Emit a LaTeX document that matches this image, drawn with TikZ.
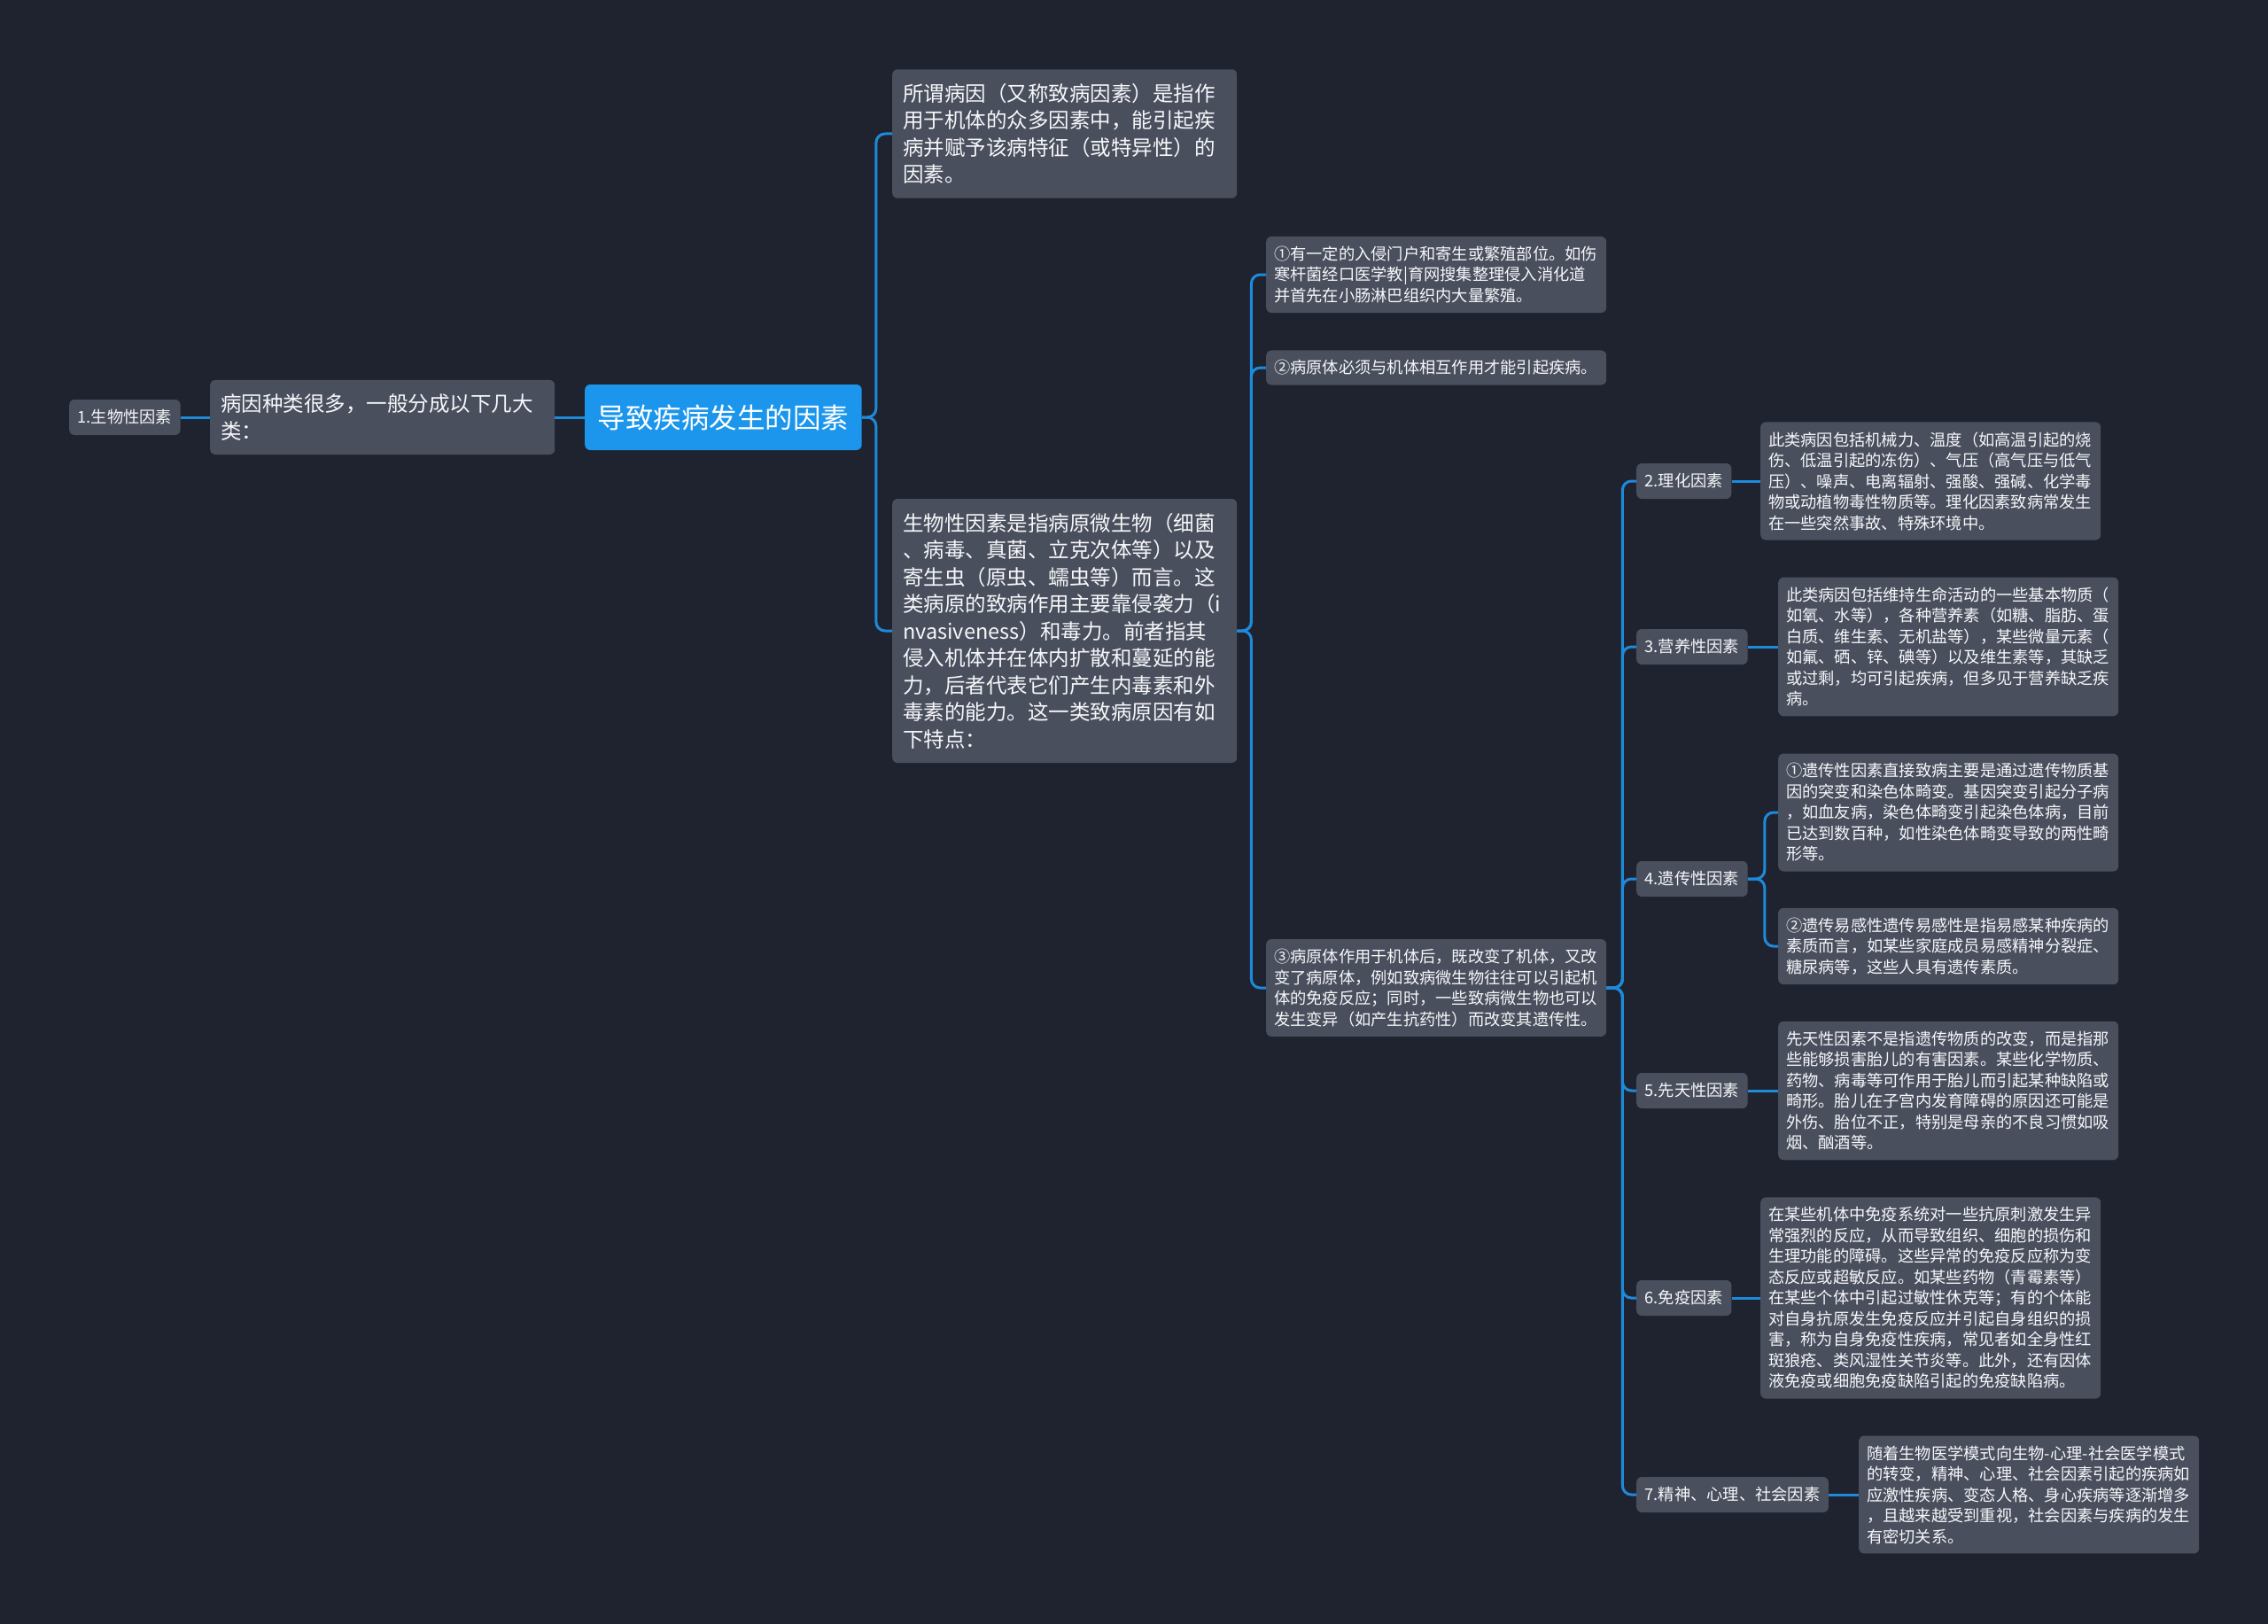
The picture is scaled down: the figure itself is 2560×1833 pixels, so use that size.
\documentclass[tikz,border=0pt]{standalone}
\usepackage{fontspec}
\setmainfont{Noto Sans CJK SC}

\definecolor{bgdark}{RGB}{31,35,47}
\definecolor{cardgray}{RGB}{74,79,94}
\definecolor{cardtext}{RGB}{246,247,249}
\definecolor{rootblue}{RGB}{28,150,236}
\definecolor{branchblue}{RGB}{30,138,218}

\begin{document}
\begin{tikzpicture}[x=1pt,y=-1pt]

    \def\rootgap{16}
    \def\biogap{16}
    \def\causegap{18}
    \def\genegap{19}

    % Styles
    \tikzstyle{card}=[fill=cardgray, text=cardtext, rounded corners=6pt, align=left, anchor=west]
    \tikzstyle{bigcard}=[card, font=\fontsize{23.5}{30.5}\selectfont, text width=365pt, inner xsep=12pt, inner ysep=16pt]
    \tikzstyle{smallcard}=[card, font=\fontsize{18.25}{23.5}\selectfont, text width=366pt, inner xsep=9pt, inner ysep=11pt]
    \tikzstyle{tagbox}=[card, font=\fontsize{18.25}{23.5}\selectfont, inner xsep=9.5pt, inner ysep=0pt, minimum height=40pt]
    \tikzstyle{rootbox}=[card, fill=rootblue, text=white, font=\fontsize{31.5}{38}\selectfont, inner xsep=14.5pt, inner ysep=0pt, minimum height=74pt]
    \tikzstyle{branch}=[draw=branchblue, line width=3pt, rounded corners=10pt]

    % background
    \fill[bgdark] (0,0) rectangle (2560,1833);

    % centre and left side
    \node[rootbox] (root) at (660,471) {导致疾病发生的因素};
    \node[bigcard] (kinds) at (237,471) {病因种类很多，一般分成以下几大\\类：};
    \node[tagbox] (biotag) at (78,471) {1.生物性因素};

    % definition and biological factors
    \node[bigcard] (define) at (1007,151) {所谓病因（又称致病因素）是指作\\用于机体的众多因素中，能引起疾\\病并赋予该病特征（或特异性）的\\因素。};
    \node[bigcard] (biotext) at (1007,712) {生物性因素是指病原微生物（细菌\\、病毒、真菌、立克次体等）以及\\寄生虫（原虫、蠕虫等）而言。这\\类病原的致病作用主要靠侵袭力（i\\nvasiveness）和毒力。前者指其\\侵入机体并在体内扩散和蔓延的能\\力，后者代表它们产生内毒素和外\\毒素的能力。这一类致病原因有如\\下特点：};

    % features
    \node[smallcard] (feat1) at (1429,310) {①有一定的入侵门户和寄生或繁殖部位。如伤\\寒杆菌经口医学教|育网搜集整理侵入消化道\\并首先在小肠淋巴组织内大量繁殖。};
    \node[smallcard] (feat2) at (1429,415) {②病原体必须与机体相互作用才能引起疾病。};
    \node[smallcard] (feat3) at (1429,1115) {③病原体作用于机体后，既改变了机体，又改\\变了病原体，例如致病微生物往往可以引起机\\体的免疫反应；同时，一些致病微生物也可以\\发生变异（如产生抗药性）而改变其遗传性。};

    % other factors
    \node[tagbox] (phys) at (1847,543) {2.理化因素};
    \node[smallcard] (physt) at (1987,543) {此类病因包括机械力、温度（如高温引起的烧\\伤、低温引起的冻伤）、气压（高气压与低气\\压）、噪声、电离辐射、强酸、强碱、化学毒\\物或动植物毒性物质等。理化因素致病常发生\\在一些突然事故、特殊环境中。};

    \node[tagbox] (nutr) at (1847,730) {3.营养性因素};
    \node[smallcard] (nutrt) at (2007,730) {此类病因包括维持生命活动的一些基本物质（\\如氧、水等），各种营养素（如糖、脂肪、蛋\\白质、维生素、无机盐等），某些微量元素（\\如氟、硒、锌、碘等）以及维生素等，其缺乏\\或过剩，均可引起疾病，但多见于营养缺乏疾\\病。};

    \node[tagbox] (gene) at (1847,992) {4.遗传性因素};
    \node[smallcard] (genea) at (2007,917) {①遗传性因素直接致病主要是通过遗传物质基\\因的突变和染色体畸变。基因突变引起分子病\\，如血友病，染色体畸变引起染色体病，目前\\已达到数百种，如性染色体畸变导致的两性畸\\形等。};
    \node[smallcard] (geneb) at (2007,1068) {②遗传易感性遗传易感性是指易感某种疾病的\\素质而言，如某些家庭成员易感精神分裂症、\\糖尿病等，这些人具有遗传素质。};

    \node[tagbox] (cong) at (1847,1231) {5.先天性因素};
    \node[smallcard] (congt) at (2007,1231) {先天性因素不是指遗传物质的改变，而是指那\\些能够损害胎儿的有害因素。某些化学物质、\\药物、病毒等可作用于胎儿而引起某种缺陷或\\畸形。胎儿在子宫内发育障碍的原因还可能是\\外伤、胎位不正，特别是母亲的不良习惯如吸\\烟、酗酒等。};

    \node[tagbox] (imm) at (1847,1465) {6.免疫因素};
    \node[smallcard] (immt) at (1987,1465) {在某些机体中免疫系统对一些抗原刺激发生异\\常强烈的反应，从而导致组织、细胞的损伤和\\生理功能的障碍。这些异常的免疫反应称为变\\态反应或超敏反应。如某些药物（青霉素等）\\在某些个体中引起过敏性休克等；有的个体能\\对自身抗原发生免疫反应并引起自身组织的损\\害，称为自身免疫性疾病，常见者如全身性红\\斑狼疮、类风湿性关节炎等。此外，还有因体\\液免疫或细胞免疫缺陷引起的免疫缺陷病。};

    \node[tagbox] (mind) at (1847,1687) {7.精神、心理、社会因素};
    \node[smallcard] (mindt) at (2098,1687) {随着生物医学模式向生物-心理-社会医学模式\\的转变，精神、心理、社会因素引起的疾病如\\应激性疾病、变态人格、身心疾病等逐渐增多\\，且越来越受到重视，社会因素与疾病的发生\\有密切关系。};

    % branches
    \draw[branch] (biotag.east) -- (kinds.west);
    \draw[branch] (kinds.east) -- (root.west);
    \foreach \kid in {define,biotext}
        \draw[branch] (root.east) -- ++(\rootgap,0) |- (\kid.west);
    \foreach \kid in {feat1,feat2,feat3}
        \draw[branch] (biotext.east) -- ++(\biogap,0) |- (\kid.west);
    \foreach \kid in {phys,nutr,gene,cong,imm,mind}
        \draw[branch] (feat3.east) -- ++(\causegap,0) |- (\kid.west);
    \foreach \kid in {genea,geneb}
        \draw[branch] (gene.east) -- ++(\genegap,0) |- (\kid.west);
    \draw[branch] (phys.east) -- (physt.west);
    \draw[branch] (nutr.east) -- (nutrt.west);
    \draw[branch] (cong.east) -- (congt.west);
    \draw[branch] (imm.east) -- (immt.west);
    \draw[branch] (mind.east) -- (mindt.west);

\end{tikzpicture}
\end{document}
